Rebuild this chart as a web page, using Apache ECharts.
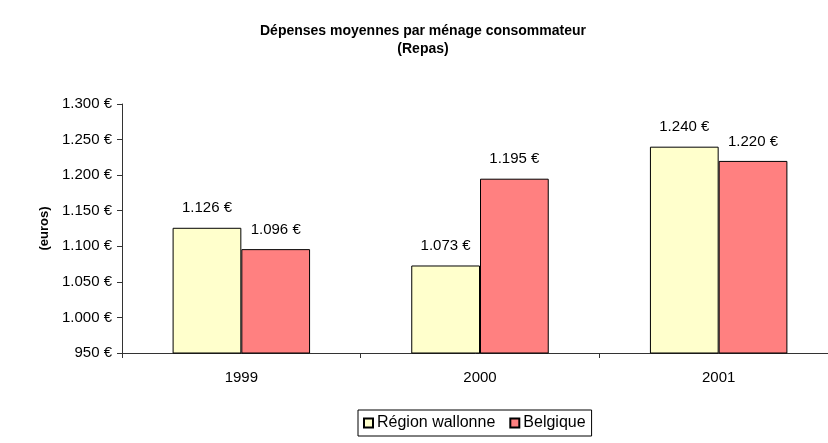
<!DOCTYPE html>
<html>
<head>
<meta charset="utf-8">
<script src="https://cdn.jsdelivr.net/npm/echarts@6/dist/echarts.min.js"></script>
<style>
  html, body { margin: 0; padding: 0; background: #fff; }
  #myChart { width: 828px; height: 443px; }
</style>
</head>
<body>
<div id="myChart"></div>
<script>
var years = ['1999', '2000', '2001']
var wallonie = [1126, 1073, 1240]
var belgique = [1096, 1195, 1220]
var yTicks = [950, 1000, 1050, 1100, 1150, 1200, 1250, 1300]

// 1126 -> "1.126 €"
function euro(v) {
  var s = String(Math.round(v))
  return s.replace(/\B(?=(\d{3})+(?!\d))/g, '.') + ' €'
}

var font = 'Liberation Sans, Arial, sans-serif'
var myChart = echarts.init(document.getElementById('myChart'))
myChart.setOption({
  animation: false,
  title: {
    text: 'Dépenses moyennes par ménage consommateur\n(Repas)',
    left: 418,
    top: 17,
    textAlign: 'center',
    textStyle: { fontFamily: font, fontSize: 14, fontWeight: 'bold', color: '#000', lineHeight: 18 }
  },
  legend: {
    left: 358,
    top: 410,
    itemWidth: 9,
    itemHeight: 9,
    itemGap: 14,
    padding: [5, 6, 5, 5],
    borderColor: '#000',
    borderWidth: 1,
    icon: 'rect',
    textStyle: { fontFamily: font, fontSize: 16, color: '#000', padding: [0, 0, 0, -1] },
    data: ['Région wallonne', 'Belgique']
  },
  // the plot area runs past the right edge of the picture
  grid: { left: 122, width: 716, top: 104, bottom: 90, outerBoundsMode: 'none', containLabel: false },
  xAxis: {
    type: 'category',
    data: years,
    axisLine: { lineStyle: { color: '#333' } },
    axisTick: { show: true, length: 5, lineStyle: { color: '#333' } },
    axisLabel: { fontFamily: font, fontSize: 15, color: '#000', margin: 17 }
  },
  yAxis: {
    type: 'value',
    min: yTicks[0],
    max: yTicks[yTicks.length - 1],
    interval: 50,
    name: '(euros)',
    nameLocation: 'middle',
    nameGap: 61,
    nameTextStyle: { fontFamily: font, fontSize: 13, fontWeight: 'bold', color: '#000' },
    axisLine: { show: true, lineStyle: { color: '#333' } },
    axisTick: { show: true, length: 5, lineStyle: { color: '#333' } },
    splitLine: { show: false },
    axisLabel: { fontFamily: font, fontSize: 15, color: '#000', margin: 10, formatter: euro }
  },
  series: [
    {
      name: 'Région wallonne',
      type: 'bar',
      data: wallonie,
      barGap: '0%',
      barCategoryGap: '42.4%',
      itemStyle: { color: '#FFFFCC', borderColor: '#000', borderWidth: 1 },
      label: { show: true, position: 'top', distance: 12, fontFamily: font, fontSize: 15, color: '#000', formatter: function (p) { return euro(p.value) } }
    },
    {
      name: 'Belgique',
      type: 'bar',
      data: belgique,
      itemStyle: { color: '#FF8080', borderColor: '#000', borderWidth: 1 },
      label: { show: true, position: 'top', distance: 12, fontFamily: font, fontSize: 15, color: '#000', formatter: function (p) { return euro(p.value) } }
    }
  ]
})
</script>
</body>
</html>
